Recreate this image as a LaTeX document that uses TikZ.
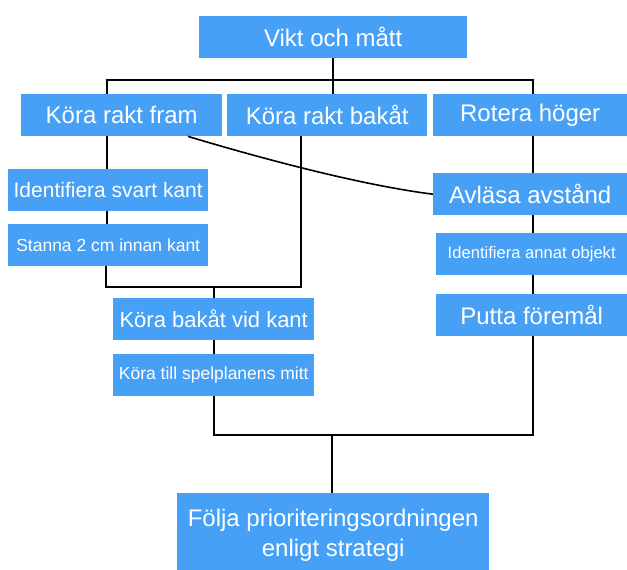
\documentclass[tikz,border=0pt]{standalone}
\usepackage{fontspec}
\setmainfont{Liberation Sans}
\definecolor{boxblue}{RGB}{70,160,245}
\newcommand\myfsA{\fontsize{24}{30}\selectfont}
\newcommand\myfsB{\fontsize{22}{26}\selectfont}
\newcommand\myfsC{\fontsize{21}{25}\selectfont}
\newcommand\myfsD{\fontsize{17.5}{21}\selectfont}
\newcommand\myfsE{\fontsize{16.6}{20}\selectfont}
\begin{document}
\begin{tikzpicture}[x=1pt,y=-1pt,
  box/.style={fill=boxblue, text=white, inner sep=0pt, anchor=north west, align=center},
  conn/.style={line width=1.8pt, black}]
\useasboundingbox (0,0) rectangle (627,570);
% boxes
\node[box, minimum width=268pt, minimum height=42pt, font=\myfsA] (top) at (199,16) {Vikt och mått};
\node[box, minimum width=201pt, minimum height=42pt, font=\myfsA] (fram) at (21,94) {Köra rakt fram};
\node[box, minimum width=200pt, minimum height=42pt, font=\myfsA] (bakat) at (227,94) {Köra rakt bakåt};
\node[box, minimum width=194pt, minimum height=42pt, font=\myfsA] (rotera) at (433,94) {Rotera höger};
\node[box, minimum width=200pt, minimum height=42pt, font=\myfsC] (idsvart) at (8,169) {Identifiera svart kant};
\node[box, minimum width=200pt, minimum height=42pt, font=\myfsD] (stanna) at (8,224) {Stanna 2 cm innan kant};
\node[box, minimum width=201pt, minimum height=42pt, font=\myfsB] (bakvid) at (113,298) {Köra bakåt vid kant};
\node[box, minimum width=201pt, minimum height=42pt, font=\myfsD] (tillmitt) at (113,354) {Köra till spelplanens mitt};
\node[box, minimum width=194pt, minimum height=42pt, font=\myfsA] (avlasa) at (433,173) {Avläsa avstånd};
\node[box, minimum width=191pt, minimum height=42pt, font=\myfsE] (idannat) at (436,233) {Identifiera annat objekt};
\node[box, minimum width=191pt, minimum height=42pt, font=\myfsA] (putta) at (436,294) {Putta föremål};
\node[box, minimum width=312pt, minimum height=84pt, font=\myfsA] (folja) at (177,493) {Följa prioriteringsordningen\\enligt strategi};
% junction coordinates
\coordinate (xL) at (107,80);
\coordinate (xR) at (533,80);
\coordinate (m1) at (106,287);
\coordinate (m2) at (301,287);
\coordinate (xM) at (214,287);
\coordinate (b1) at (214,435);
\coordinate (b2) at (533,435);
\coordinate (bc) at (332,435);
\coordinate (cx) at (188,0);
% connectors
\draw[conn] (top.south) -- (top.south |- bakat.north);
\draw[conn] (fram.north -| xL) -- (xL) -- (xR) -- (rotera.north -| xR);
\draw[conn] (fram.south -| xL) -- (idsvart.north -| xL);
\draw[conn] (idsvart.south -| xL) -- (stanna.north -| xL);
\draw[conn] (stanna.south -| m1) -- (m1) -- (m2) -- (bakat.south -| m2);
\draw[conn] (xM) -- (bakvid.north -| xM);
\draw[conn] (bakvid.south -| xM) -- (tillmitt.north -| xM);
\draw[conn] (tillmitt.south -| b1) -- (b1) -- (b2) -- (putta.south -| b2);
\draw[conn] (bc) -- (folja.north -| bc);
\draw[conn] (rotera.south -| xR) -- (avlasa.north -| xR);
\draw[conn] (avlasa.south -| xR) -- (idannat.north -| xR);
\draw[conn] (idannat.south -| xR) -- (putta.north -| xR);
\draw[conn, line width=1.6pt] (fram.south -| cx) .. controls (260,158) and (360,185) .. (avlasa.west);
\end{tikzpicture}
\end{document}
